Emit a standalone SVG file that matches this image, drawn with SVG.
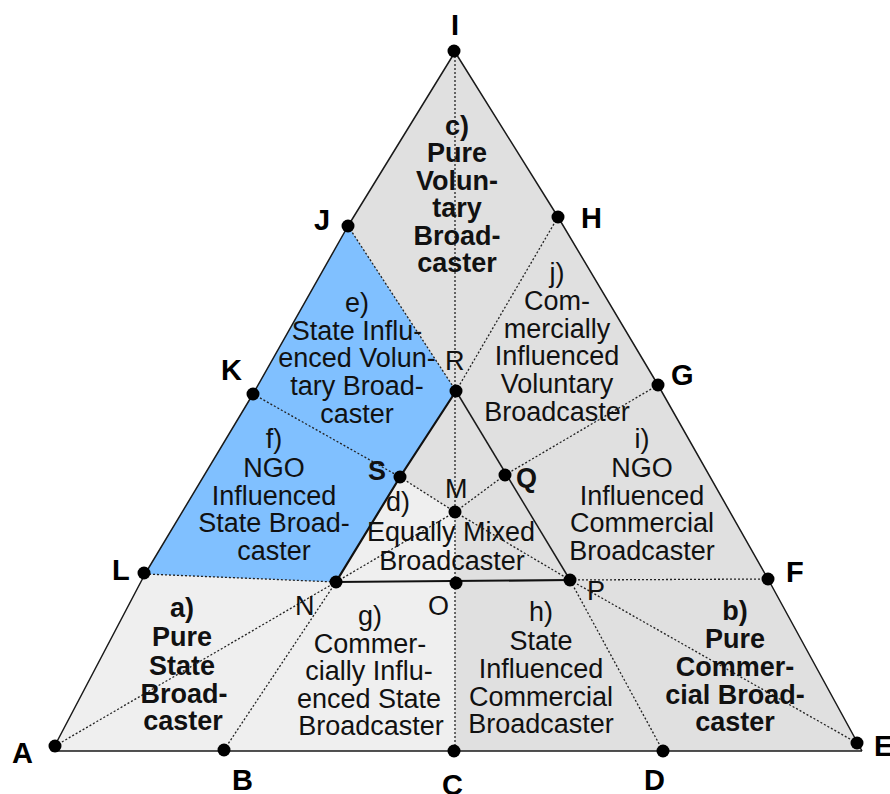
<svg xmlns="http://www.w3.org/2000/svg" width="890" height="794" viewBox="0 0 890 794">
<style>
.edge{fill:none;stroke:#1a1a1a;stroke-width:1.5;stroke-linejoin:round}
.thick{fill:none;stroke:#111;stroke-width:2.2}
.dot{fill:none;stroke:#222;stroke-width:1.3;stroke-dasharray:2 2}
.pt{fill:#000}
.lb{font-family:"Liberation Sans",Arial,sans-serif;font-size:29px;font-weight:bold;fill:#000}
.il{font-family:"Liberation Sans",Arial,sans-serif;font-size:27px;fill:#111}
.ilb{font-family:"Liberation Sans",Arial,sans-serif;font-size:27px;font-weight:bold;fill:#111}
.rg{font-family:"Liberation Sans",Arial,sans-serif;font-size:27px;fill:#111;text-anchor:middle}
.rb{font-family:"Liberation Sans",Arial,sans-serif;font-size:27px;font-weight:bold;fill:#111;text-anchor:middle}
</style>
<rect width="890" height="794" fill="#fff"/>
<g id="areas">
<polygon points="52,751 145,574 253,394 348,226 455,52 558,217 658,385 768,579 862,751" fill="#e0e0e0"/>
<polygon points="52,751 145,574 336,582 400,477 455,512 455,583 455,751" fill="#efefef"/>
<polygon points="145,574 253,394 348,226 456,391 400,477 336,582" fill="#80c0ff"/>
</g>
<g id="connectors">
<polyline class="dot" points="455,52 455,751"/>
<line class="dot" x1="348" y1="226" x2="456" y2="391"/>
<line class="dot" x1="558" y1="217" x2="456" y2="391"/>
<line class="dot" x1="253" y1="394" x2="400" y2="477"/>
<line class="dot" x1="400" y1="477" x2="455" y2="512"/>
<line class="dot" x1="658" y1="385" x2="505" y2="475"/>
<line class="dot" x1="505" y1="475" x2="455" y2="512"/>
<line class="dot" x1="455" y1="512" x2="336" y2="582"/>
<line class="dot" x1="455" y1="512" x2="570" y2="580"/>
<line class="dot" x1="145" y1="574" x2="336" y2="582"/>
<line class="dot" x1="768" y1="579" x2="570" y2="580"/>
<line class="dot" x1="55" y1="746" x2="336" y2="582"/>
<line class="dot" x1="224" y1="750" x2="336" y2="582"/>
<line class="dot" x1="663" y1="751" x2="570" y2="580"/>
<line class="dot" x1="857" y1="743" x2="570" y2="580"/>
<polyline class="edge" points="862,751 52,751 145,574 253,394 348,226 455,52 558,217 658,385 768,579 862,751"/>
<polyline class="thick" points="456,391 400,477 336,582 570,580"/>
<line class="edge" x1="456" y1="391" x2="570" y2="580"/>
</g>
<g id="points">
<circle id="I" class="pt" cx="454" cy="51" r="6.5"/>
<circle id="J" class="pt" cx="348" cy="226" r="6.5"/>
<circle id="H" class="pt" cx="558" cy="217" r="6.5"/>
<circle id="K" class="pt" cx="253" cy="394" r="6.5"/>
<circle id="G" class="pt" cx="658" cy="385" r="6.5"/>
<circle id="L" class="pt" cx="144" cy="573" r="6.5"/>
<circle id="F" class="pt" cx="768" cy="579" r="6.5"/>
<circle id="A" class="pt" cx="55" cy="746" r="6.5"/>
<circle id="B" class="pt" cx="224" cy="750" r="6.5"/>
<circle id="C" class="pt" cx="454" cy="751" r="6.5"/>
<circle id="D" class="pt" cx="663" cy="751" r="6.5"/>
<circle id="E" class="pt" cx="857" cy="743" r="6.5"/>
<circle id="R" class="pt" cx="456" cy="391" r="6.5"/>
<circle id="S" class="pt" cx="400" cy="477" r="6.5"/>
<circle id="M" class="pt" cx="455" cy="512" r="6.5"/>
<circle id="Q" class="pt" cx="505" cy="475" r="6.5"/>
<circle id="N" class="pt" cx="336" cy="582" r="6.5"/>
<circle id="O" class="pt" cx="456" cy="583" r="6.5"/>
<circle id="P" class="pt" cx="570" cy="580" r="6.5"/>
</g>
<g id="point-labels">
<text class="lb" x="455" y="35" text-anchor="middle">I</text>
<text class="lb" x="314" y="230">J</text>
<text class="lb" x="581" y="228">H</text>
<text class="lb" x="221" y="380">K</text>
<text class="lb" x="671" y="385">G</text>
<text class="lb" x="112" y="580">L</text>
<text class="lb" x="786" y="582">F</text>
<text class="lb" x="12" y="763">A</text>
<text class="lb" x="232" y="790">B</text>
<text class="lb" x="442" y="795">C</text>
<text class="lb" x="644" y="790">D</text>
<text class="lb" x="874" y="756">E</text>
<text class="il" x="445" y="370">R</text>
<text class="ilb" x="368" y="480">S</text>
<text class="il" x="445" y="498">M</text>
<text class="ilb" x="516" y="487">Q</text>
<text class="il" x="295" y="615">N</text>
<text class="il" x="428" y="615">O</text>
<text class="il" x="587" y="600">P</text>
</g>
<g id="region-c">
<text class="rb" x="457" y="135">c)<tspan x="457" y="162">Pure</tspan><tspan x="457" y="190">Volun-</tspan><tspan x="457" y="217">tary</tspan><tspan x="457" y="245">Broad-</tspan><tspan x="457" y="272">caster</tspan></text>
</g>
<g id="region-e">
<text class="rg" x="357" y="312">e)<tspan x="357" y="340">State Influ-</tspan><tspan x="357" y="367">enced Volun-</tspan><tspan x="357" y="395">tary Broad-</tspan><tspan x="357" y="423">caster</tspan></text>
</g>
<g id="region-f">
<text class="rg" x="274" y="448">f)<tspan x="274" y="477">NGO</tspan><tspan x="274" y="505">Influenced</tspan><tspan x="274" y="532">State Broad-</tspan><tspan x="274" y="560">caster</tspan></text>
</g>
<g id="region-d">
<text class="rg" x="398" y="511">d)</text>
<text class="rg" x="451" y="541">Equally Mixed<tspan x="452" y="570">Broadcaster</tspan></text>
</g>
<g id="region-j">
<text class="rg" x="557" y="282">j)<tspan x="557" y="310">Com-</tspan><tspan x="557" y="338">mercially</tspan><tspan x="557" y="365">Influenced</tspan><tspan x="557" y="393">Voluntary</tspan><tspan x="557" y="421">Broadcaster</tspan></text>
</g>
<g id="region-i">
<text class="rg" x="642" y="448">i)<tspan x="642" y="477">NGO</tspan><tspan x="642" y="505">Influenced</tspan><tspan x="642" y="532">Commercial</tspan><tspan x="642" y="560">Broadcaster</tspan></text>
</g>
<g id="region-a">
<text class="rb" x="182" y="617">a)<tspan x="182" y="646">Pure</tspan><tspan x="182" y="675">State</tspan><tspan x="184" y="703">Broad-</tspan><tspan x="183" y="730">caster</tspan></text>
</g>
<g id="region-g">
<text class="rg" x="370" y="625">g)<tspan x="370" y="653">Commer-</tspan><tspan x="369" y="680">cially Influ-</tspan><tspan x="369" y="708">enced State</tspan><tspan x="371" y="735">Broadcaster</tspan></text>
</g>
<g id="region-h">
<text class="rg" x="541" y="621">h)<tspan x="541" y="650">State</tspan><tspan x="541" y="678">Influenced</tspan><tspan x="541" y="706">Commercial</tspan><tspan x="541" y="733">Broadcaster</tspan></text>
</g>
<g id="region-b">
<text class="rb" x="735" y="620">b)<tspan x="735" y="648">Pure</tspan><tspan x="735" y="676">Commer-</tspan><tspan x="735" y="704">cial Broad-</tspan><tspan x="735" y="731">caster</tspan></text>
</g>
</svg>
